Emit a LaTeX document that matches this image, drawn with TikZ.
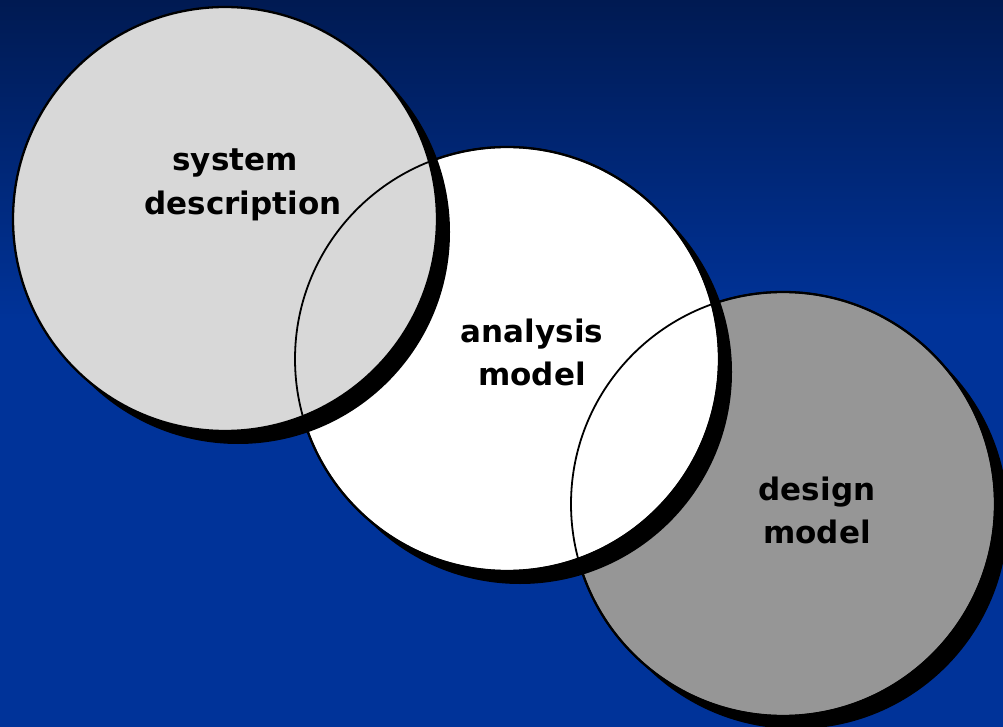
\documentclass[tikz,border=0pt]{standalone}
\usepackage{fontspec}
\newfontfamily\dvs{DejaVu Sans}
\definecolor{bgtop}{RGB}{0,26,82}
\definecolor{bgbot}{RGB}{0,51,153}
\definecolor{lgray}{RGB}{216,216,216}
\definecolor{mgray}{RGB}{150,150,150}
\begin{document}
\begin{tikzpicture}[x=1pt,y=-1pt,
  circ/.style={circle,minimum size=424pt,inner sep=0pt,draw=black,line width=2.3pt},
  shad/.style={circle,minimum size=424pt,inner sep=0pt,fill=black},
  ring/.style={circle,minimum size=424pt,inner sep=0pt,draw=black,line width=1.8pt},
  lab/.style={font=\dvs\bfseries\fontsize{31}{43}\selectfont,align=center,text=black}]
\useasboundingbox (0,0) rectangle (1003,727);
\shade[top color=bgtop,bottom color=bgbot] (0,0) rectangle (1003,320);
\fill[bgbot] (0,319) rectangle (1003,727);
% circle 3
\node[shad] (s3) at (796,517) {};
\node[circ,fill=mgray] (c3) at (783,504) {};
% circle 2
\node[shad] (s2) at (520,372) {};
\node[circ,fill=white] (c2) at (507,359) {};
% circle 1
\node[shad] (s1) at (238,232) {};
\node[circ,fill=lgray] (c1) at (225,219) {};
% outlines redrawn
\node[ring] (r2) at (507,359) {};
\node[ring] (r3) at (783,504) {};
% labels
\node[lab] (t1a) at (235,163) {system};
\node[lab] (t1b) at (243,206) {description};
\node[lab] (t2) at (532,352) {analysis\\model};
\node[lab] (t3) at (817,510) {design\\model};
\end{tikzpicture}
\end{document}
